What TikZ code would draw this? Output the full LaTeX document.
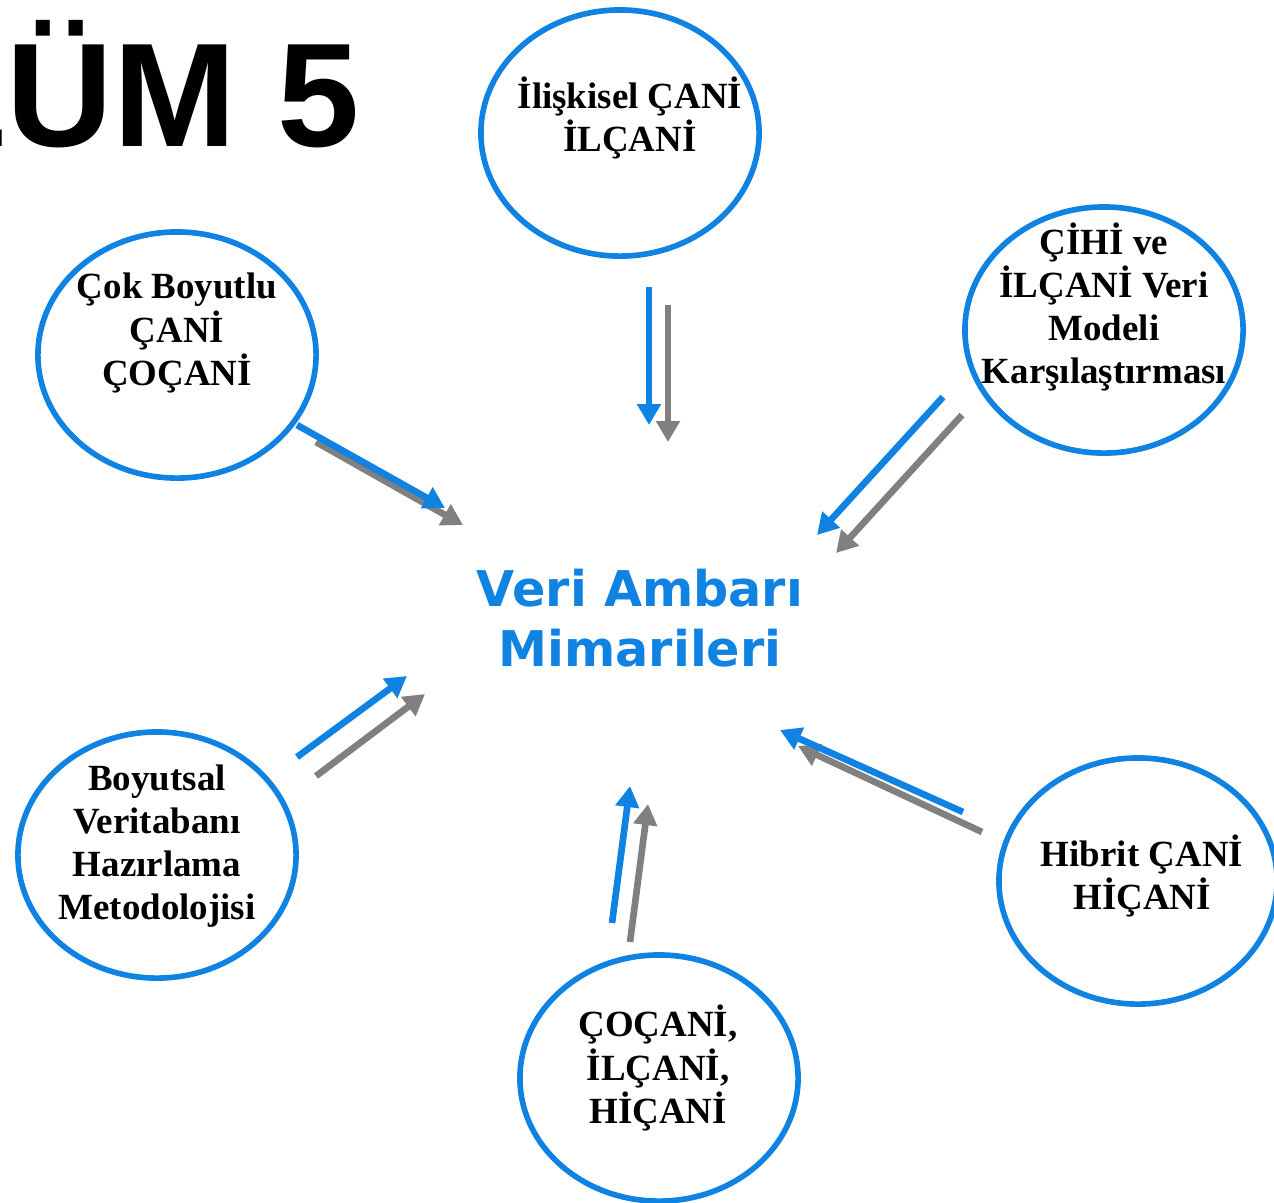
\documentclass[tikz,border=0pt]{standalone}
\usepackage{fontspec}
\setmainfont{Liberation Serif}
\newfontfamily\hubfont{DejaVu Sans}
\newfontfamily\titlefont{Liberation Sans}
\usetikzlibrary{shapes.geometric, arrows.meta, positioning}
\definecolor{ringblue}{RGB}{16,130,226}
\definecolor{arrowgray}{RGB}{128,128,128}

\begin{document}
\begin{tikzpicture}[x=0.01cm, y=-0.01cm,
    ring/.style={ellipse, draw=ringblue, line width=1.6pt, minimum width=2.78cm,
                 minimum height=2.46cm, inner sep=0pt},
    ringtext/.style={align=center, font=\fontsize{10.5}{12.3}\selectfont\bfseries},
    bluearrow/.style={draw=ringblue, line width=1.9pt, -{Triangle[length=2.1mm, width=2.3mm]}},
    grayarrow/.style={draw=arrowgray, line width=1.9pt, -{Triangle[length=2.1mm, width=2.3mm]}}]

    % Frame
    \useasboundingbox (0,0) rectangle (1274,1202);
    \clip (0,0) rectangle (1274,1202);

    % Title
    \node[anchor=base east, inner sep=0pt, font=\titlefont\bfseries\fontsize{42}{48}\selectfont] (title) at (360,146) {LÜM 5};

    % Hub
    \node[align=center, text=ringblue, font=\hubfont\bfseries\fontsize{14}{17}\selectfont] (hub) at (640,618) {Veri Ambarı\\Mimarileri};

    % Rings
    \node[ring] (rel) at (620,133) {};
    \node[ringtext] at (630,118) {İlişkisel ÇANİ\\İLÇANİ};

    \node[ring] (multi) at (177,355) {};
    \node[ringtext] at (177,333) {Çok Boyutlu\\ÇANİ\\ÇOÇANİ};

    \node[ring] (comp) at (1104,330) {};
    \node[ringtext] at (1104,307) {ÇİHİ ve\\İLÇANİ Veri\\Modeli\\Karşılaştırması};

    \node[ring] (dim) at (157,855) {};
    \node[ringtext] at (157,846) {Boyutsal\\Veritabanı\\Hazırlama\\Metodolojisi};

    \node[ring] (all) at (659,1078) {};
    \node[ringtext] at (658,1068) {ÇOÇANİ,\\İLÇANİ,\\HİÇANİ};

    \node[ring] (hyb) at (1138,881) {};
    \node[ringtext] at (1142,876) {Hibrit ÇANİ\\HİÇANİ};

    % Arrow ends
    \coordinate (relB1) at (649,287);  \coordinate (relB2) at (649,425);
    \coordinate (relG1) at (668,305);  \coordinate (relG2) at (668,442);
    \coordinate (multiB1) at (297,425); \coordinate (multiB2) at (445,508);
    \coordinate (multiG1) at (316,442); \coordinate (multiG2) at (463,525);
    \coordinate (compB1) at (943,397); \coordinate (compB2) at (817,535);
    \coordinate (compG1) at (962,415); \coordinate (compG2) at (836,553);
    \coordinate (dimB1) at (297,757);  \coordinate (dimB2) at (407,676);
    \coordinate (dimG1) at (316,776);  \coordinate (dimG2) at (425,694);
    \coordinate (allB1) at (612,923);  \coordinate (allB2) at (630,786);
    \coordinate (allG1) at (630,942);  \coordinate (allG2) at (648,804);
    \coordinate (hybB1) at (963,812);  \coordinate (hybB2) at (780,730);
    \coordinate (hybG1) at (982,832);  \coordinate (hybG2) at (798,746);

    % Arrows
    \draw[grayarrow] (relG1) -- (relG2);
    \draw[bluearrow] (relB1) -- (relB2);
    \draw[grayarrow] (multiG1) -- (multiG2);
    \draw[bluearrow] (multiB1) -- (multiB2);
    \draw[grayarrow] (compG1) -- (compG2);
    \draw[bluearrow] (compB1) -- (compB2);
    \draw[grayarrow] (dimG1) -- (dimG2);
    \draw[bluearrow] (dimB1) -- (dimB2);
    \draw[grayarrow] (allG1) -- (allG2);
    \draw[bluearrow] (allB1) -- (allB2);
    \draw[grayarrow] (hybG1) -- (hybG2);
    \draw[bluearrow] (hybB1) -- (hybB2);
\end{tikzpicture}
\end{document}
